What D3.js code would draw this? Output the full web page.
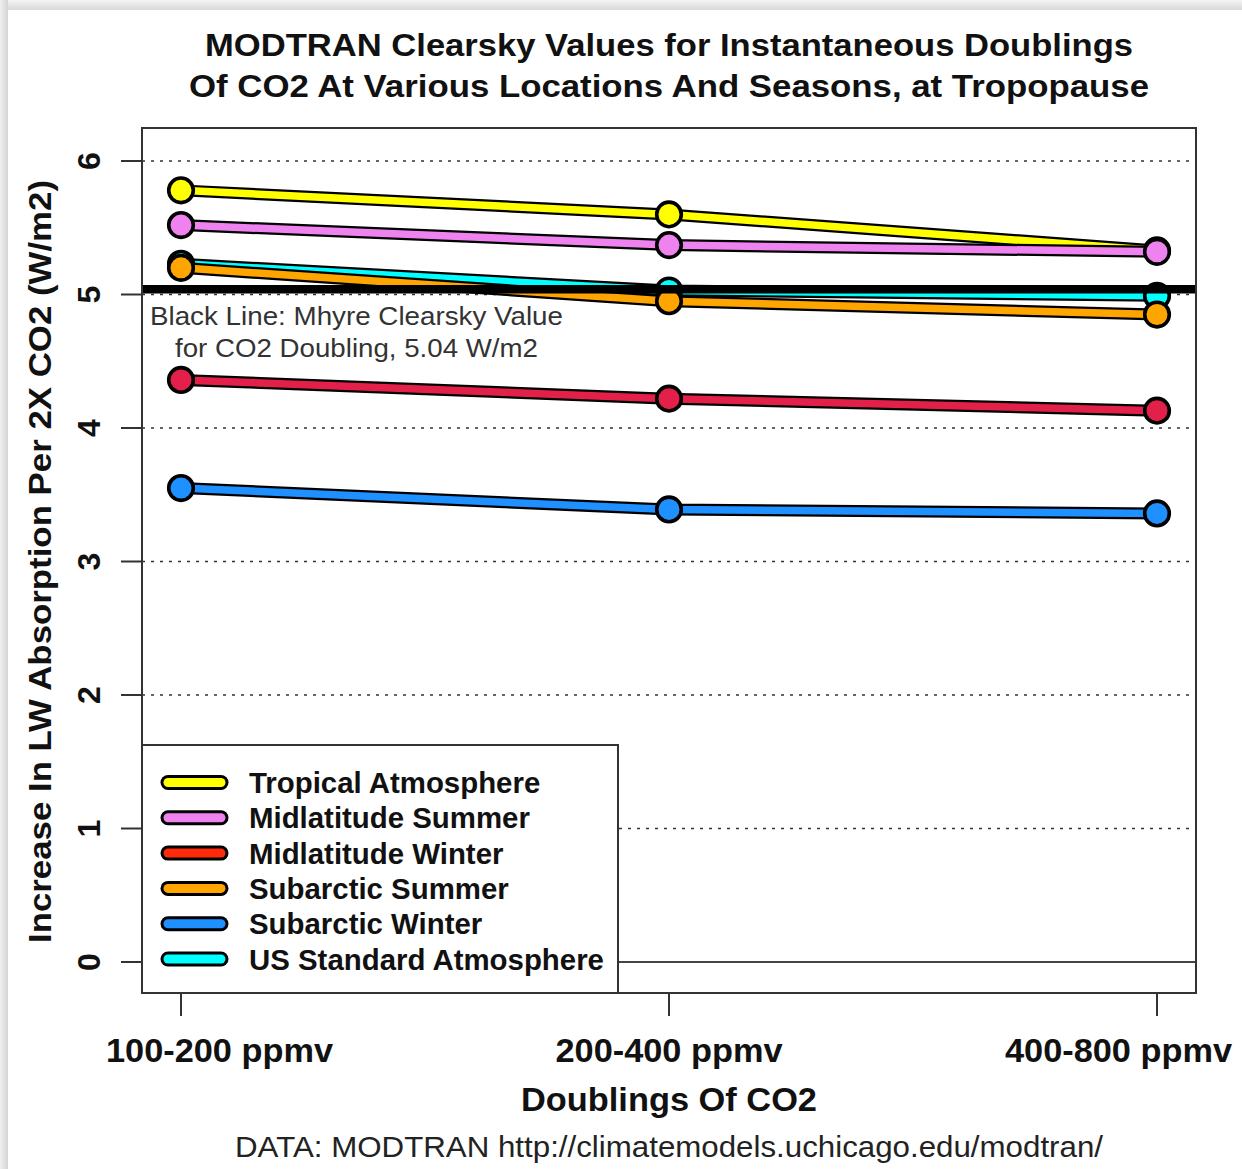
<!DOCTYPE html>
<html>
<head>
<meta charset="utf-8">
<script src="https://cdn.jsdelivr.net/npm/d3@7"></script>
<style>
  html, body { margin: 0; padding: 0; background: #fff; }
  svg { display: block; }
  text { font-family: "Liberation Sans", Arial, sans-serif; }
</style>
</head>
<body>
<div id="chart"></div>
<script>
// ---------------- DATA ----------------
const categories = ["100-200 ppmv", "200-400 ppmv", "400-800 ppmv"];
const seriesNames = ["Tropical Atmosphere", "Midlatitude Summer", "Midlatitude Winter",
                     "Subarctic Summer", "Subarctic Winter", "US Standard Atmosphere"];
const tropical      = [5.78, 5.60, 5.33];
const midSummer     = [5.52, 5.37, 5.32];
const midWinter     = [4.36, 4.22, 4.13];
const subSummer     = [5.20, 4.95, 4.85];
const subWinter     = [3.55, 3.39, 3.36];
const usStandard    = [5.23, 5.03, 4.99];
const lineColors    = ["#FFFF00", "#EE82EE", "#E2204A", "#FFA500", "#1E90FF", "#00FFFF"];
const legendColors  = ["#FFFF00", "#EE82EE", "#FF2A0A", "#FFA500", "#1E90FF", "#00FFFF"];
const yTicks        = [0, 1, 2, 3, 4, 5, 6];
const myhreValue    = 5.04;
const titleLines    = ["MODTRAN Clearsky Values for Instantaneous Doublings",
                       "Of CO2 At Various Locations And Seasons, at Tropopause"];
const yLabel        = "Increase In LW Absorption Per 2X CO2 (W/m2)";
const xLabel        = "Doublings Of CO2";
const footer        = "DATA: MODTRAN http://climatemodels.uchicago.edu/modtran/";
const noteLines     = ["Black Line: Mhyre Clearsky Value", "for CO2 Doubling, 5.04 W/m2"];

const seriesValues = [tropical, midSummer, midWinter, subSummer, subWinter, usStandard];
// drawing order (cyan drawn before orange)
const drawOrder = [0, 1, 2, 5, 3, 4];

// ---------------- LAYOUT ----------------
const W = 1242, H = 1169;
const box = {left: 142, right: 1196, top: 128, bottom: 993};

const svg = d3.select("#chart").append("svg").attr("width", W).attr("height", H);

// card frame / shadow
const defs = svg.append("defs");
const gTop = defs.append("linearGradient").attr("id", "shTop").attr("x1", 0).attr("y1", 0).attr("x2", 0).attr("y2", 1);
gTop.append("stop").attr("offset", "0%").attr("stop-color", "#f4f4f4");
gTop.append("stop").attr("offset", "100%").attr("stop-color", "#d8d8d8");
const gLeft = defs.append("linearGradient").attr("id", "shLeft").attr("x1", 0).attr("y1", 0).attr("x2", 1).attr("y2", 0);
gLeft.append("stop").attr("offset", "0%").attr("stop-color", "#f0f0f0");
gLeft.append("stop").attr("offset", "100%").attr("stop-color", "#d4d4d4");
svg.append("rect").attr("x", 0).attr("y", 0).attr("width", W).attr("height", H).attr("fill", "#fff");
svg.append("rect").attr("x", 0).attr("y", 0).attr("width", W).attr("height", 10).attr("fill", "url(#shTop)");
svg.append("rect").attr("x", 0).attr("y", 0).attr("width", 8).attr("height", H).attr("fill", "url(#shLeft)");
svg.append("rect").attr("x", 8).attr("y", 10).attr("width", W - 8).attr("height", H - 10).attr("fill", "#fff");

// scales
const x = d3.scalePoint().domain(categories).range([181, 1157]);
const y = d3.scaleLinear().domain([0, 6]).range([962, 161]);

// title
titleLines.forEach((t, i) => {
  svg.append("text")
    .attr("x", 669).attr("y", 56 + i * 41)
    .attr("text-anchor", "middle")
    .attr("font-size", 32).attr("font-weight", "bold").attr("fill", "#111")
    .attr("textLength", i === 0 ? 928 : 960).attr("lengthAdjust", "spacingAndGlyphs")
    .text(t);
});

// gridlines (dotted) at 1..6
svg.append("g").selectAll("line")
  .data(yTicks.filter(d => d > 0))
  .join("line")
  .attr("x1", box.left).attr("x2", box.right)
  .attr("y1", d => y(d)).attr("y2", d => y(d))
  .attr("stroke", "#333").attr("stroke-width", 1.6)
  .attr("stroke-dasharray", "3,6");

// zero line solid
svg.append("line")
  .attr("x1", box.left).attr("x2", box.right)
  .attr("y1", y(0)).attr("y2", y(0))
  .attr("stroke", "#444").attr("stroke-width", 2);

// series
const lineGen = d3.line().x((d, i) => x(categories[i])).y(d => y(d));
const gSeries = svg.append("g");
drawOrder.forEach(si => {
  const vals = seriesValues[si];
  const g = gSeries.append("g");
  g.append("path").attr("d", lineGen(vals)).attr("fill", "none")
    .attr("stroke", "#000").attr("stroke-width", 12).attr("stroke-linejoin", "round");
  g.append("path").attr("d", lineGen(vals)).attr("fill", "none")
    .attr("stroke", lineColors[si]).attr("stroke-width", 7.5).attr("stroke-linejoin", "round");
  g.selectAll("circle").data(vals).join("circle")
    .attr("cx", (d, i) => x(categories[i])).attr("cy", d => y(d))
    .attr("r", 12.3).attr("fill", lineColors[si])
    .attr("stroke", "#000").attr("stroke-width", 3.6);
});

// Myhre black line
svg.append("line")
  .attr("x1", box.left).attr("x2", box.right)
  .attr("y1", y(myhreValue)).attr("y2", y(myhreValue))
  .attr("stroke", "#000").attr("stroke-width", 8.5);

// note text
svg.append("text").attr("x", 150).attr("y", 325)
  .attr("font-size", 25.5).attr("fill", "#333")
  .attr("textLength", 413).attr("lengthAdjust", "spacingAndGlyphs")
  .text(noteLines[0]);
svg.append("text").attr("x", 175).attr("y", 357)
  .attr("font-size", 25.5).attr("fill", "#333")
  .attr("textLength", 363).attr("lengthAdjust", "spacingAndGlyphs")
  .text(noteLines[1]);

// legend
const leg = svg.append("g");
leg.append("rect").attr("x", box.left).attr("y", 745)
  .attr("width", 618 - box.left).attr("height", box.bottom - 745)
  .attr("fill", "#fff").attr("stroke", "#333").attr("stroke-width", 2);
seriesNames.forEach((name, i) => {
  const cy = 782.5 + i * 35.3;
  leg.append("line").attr("x1", 168).attr("x2", 221).attr("y1", cy).attr("y2", cy)
    .attr("stroke", "#000").attr("stroke-width", 15).attr("stroke-linecap", "round");
  leg.append("line").attr("x1", 168).attr("x2", 221).attr("y1", cy).attr("y2", cy)
    .attr("stroke", legendColors[i]).attr("stroke-width", 9).attr("stroke-linecap", "round");
  leg.append("text").attr("x", 249).attr("y", cy + 10.5)
    .attr("font-size", 29.4).attr("font-weight", "bold").attr("fill", "#111")
    .text(name);
});

// plot box
svg.append("rect").attr("x", box.left).attr("y", box.top)
  .attr("width", box.right - box.left).attr("height", box.bottom - box.top)
  .attr("fill", "none").attr("stroke", "#333").attr("stroke-width", 2);

// y axis ticks
const yAxis = svg.append("g");
yAxis.selectAll("line").data(yTicks).join("line")
  .attr("x1", 121).attr("x2", box.left)
  .attr("y1", d => y(d)).attr("y2", d => y(d))
  .attr("stroke", "#333").attr("stroke-width", 2);
yAxis.selectAll("text").data(yTicks).join("text")
  .attr("transform", d => `translate(100,${y(d)}) rotate(-90)`)
  .attr("text-anchor", "middle")
  .attr("font-size", 32).attr("font-weight", "bold").attr("fill", "#111")
  .text(d => d);

// x axis ticks
const xAxis = svg.append("g");
xAxis.selectAll("line").data(categories).join("line")
  .attr("x1", d => x(d)).attr("x2", d => x(d))
  .attr("y1", box.bottom).attr("y2", 1016)
  .attr("stroke", "#333").attr("stroke-width", 2);
xAxis.selectAll("text").data(categories).join("text")
  .attr("x", (d, i) => i === 0 ? x(d) - 75 : i === categories.length - 1 ? x(d) + 75 : x(d))
  .attr("y", 1062)
  .attr("text-anchor", (d, i) => i === 0 ? "start" : i === categories.length - 1 ? "end" : "middle")
  .attr("font-size", 34).attr("font-weight", "bold").attr("fill", "#111")
  .attr("textLength", 227).attr("lengthAdjust", "spacingAndGlyphs")
  .text(d => d);

// axis titles
svg.append("text")
  .attr("transform", "translate(51,561.5) rotate(-90)")
  .attr("text-anchor", "middle")
  .attr("font-size", 31).attr("font-weight", "bold").attr("fill", "#111")
  .attr("textLength", 763).attr("lengthAdjust", "spacingAndGlyphs")
  .text(yLabel);
svg.append("text").attr("x", 669).attr("y", 1111)
  .attr("text-anchor", "middle")
  .attr("font-size", 34).attr("font-weight", "bold").attr("fill", "#111")
  .attr("textLength", 296).attr("lengthAdjust", "spacingAndGlyphs")
  .text(xLabel);
svg.append("text").attr("x", 669).attr("y", 1157)
  .attr("text-anchor", "middle")
  .attr("font-size", 29).attr("fill", "#222")
  .attr("textLength", 868).attr("lengthAdjust", "spacingAndGlyphs")
  .text(footer);
</script>
</body>
</html>
